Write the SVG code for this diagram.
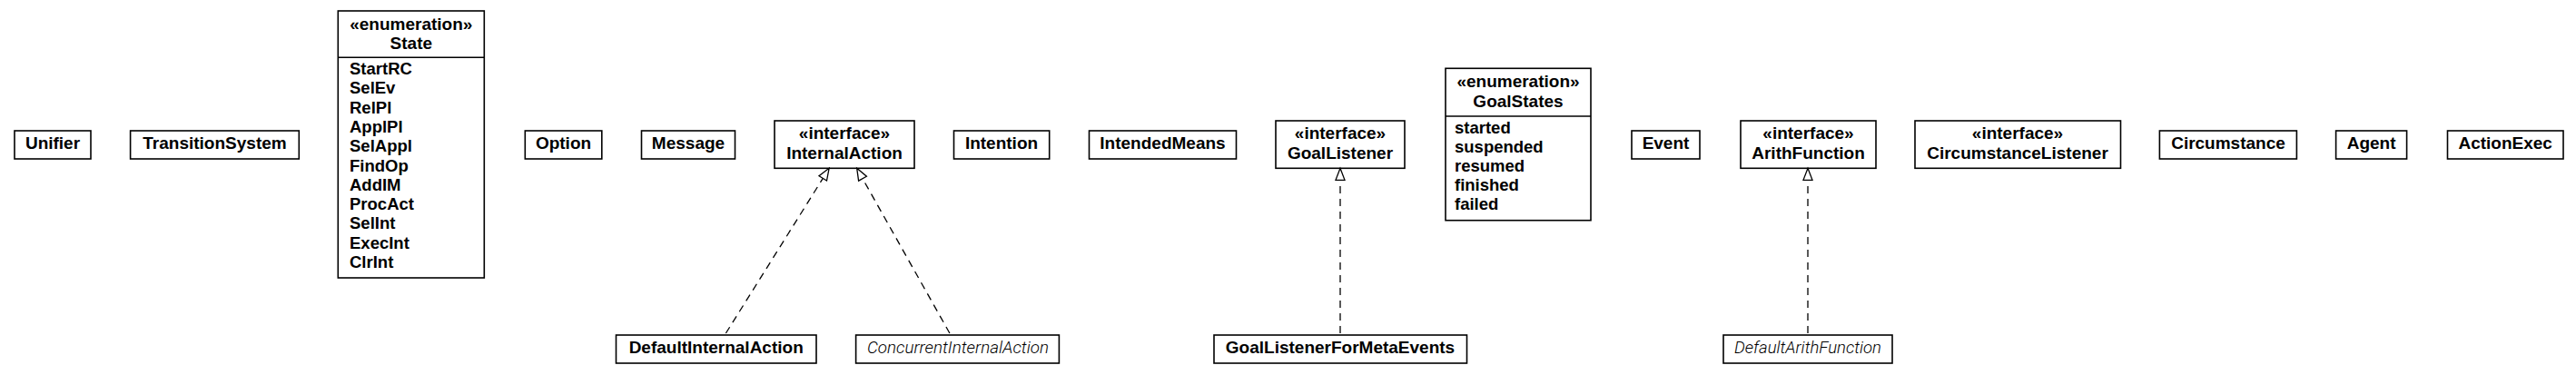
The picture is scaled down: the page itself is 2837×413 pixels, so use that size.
<svg xmlns="http://www.w3.org/2000/svg" width="2837" height="413" viewBox="0 0 2837 413">
<style>
.box{fill:#fff;stroke:#000;stroke-width:1.6}
.div{stroke:#000;stroke-width:1.6}
text{font-family:"Liberation Sans",Arial,Helvetica,sans-serif;fill:#000}
.b{font-weight:bold;font-size:19px}
.n{text-anchor:middle}
.it{font-family:Roboto,"Liberation Sans",sans-serif;font-style:italic;font-weight:300;font-size:18px;text-anchor:middle}
.a{font-weight:bold;font-size:18.5px}
.dash{fill:none;stroke:#000;stroke-width:1.3;stroke-dasharray:8,6}
.head{fill:#fff;stroke:#000;stroke-width:1.3}
</style>
<rect width="2837" height="413" fill="#fff"/>
<g id="Unifier"><rect class="box" x="16" y="144" width="84" height="31"/><text class="b n" x="58" y="164">Unifier</text></g>
<g id="TransitionSystem"><rect class="box" x="143.6" y="144" width="185.7" height="31"/><text class="b n" x="236.5" y="164">TransitionSystem</text></g>
<g id="State"><rect class="box" x="372.3" y="12" width="161" height="294"/><line class="div" x1="372.3" y1="63.3" x2="533.3" y2="63.3"/>
<text class="b n" x="452.8" y="33">«enumeration»</text><text class="b n" x="452.8" y="54">State</text>
<text class="a" x="385" y="82">StartRC</text><text class="a" x="385" y="103.3">SelEv</text><text class="a" x="385" y="124.6">RelPl</text><text class="a" x="385" y="145.9">ApplPl</text><text class="a" x="385" y="167.2">SelAppl</text><text class="a" x="385" y="188.5">FindOp</text><text class="a" x="385" y="209.8">AddIM</text><text class="a" x="385" y="231.1">ProcAct</text><text class="a" x="385" y="252.4">SelInt</text><text class="a" x="385" y="273.7">ExecInt</text><text class="a" x="385" y="295">ClrInt</text>
</g>
<g id="Option"><rect class="box" x="578.3" y="144" width="84.5" height="31"/><text class="b n" x="620.5" y="164">Option</text></g>
<g id="Message"><rect class="box" x="706.5" y="144" width="103" height="31"/><text class="b n" x="758" y="164">Message</text></g>
<g id="InternalAction"><rect class="box" x="853" y="133" width="154" height="52.3"/><text class="b n" x="930" y="153">«interface»</text><text class="b n" x="930" y="175">InternalAction</text></g>
<g id="Intention"><rect class="box" x="1050.5" y="144" width="105.2" height="31"/><text class="b n" x="1103" y="164">Intention</text></g>
<g id="IntendedMeans"><rect class="box" x="1199.5" y="144" width="162" height="31"/><text class="b n" x="1280.5" y="164">IntendedMeans</text></g>
<g id="GoalListener"><rect class="box" x="1405" y="133" width="142" height="52.3"/><text class="b n" x="1476" y="153">«interface»</text><text class="b n" x="1476" y="175">GoalListener</text></g>
<g id="GoalStates"><rect class="box" x="1592" y="75.3" width="160" height="167.4"/><line class="div" x1="1592" y1="128" x2="1752" y2="128"/>
<text class="b n" x="1672" y="95.5">«enumeration»</text><text class="b n" x="1672" y="117.5">GoalStates</text>
<text class="a" x="1602" y="146.5">started</text><text class="a" x="1602" y="167.6">suspended</text><text class="a" x="1602" y="188.7">resumed</text><text class="a" x="1602" y="209.8">finished</text><text class="a" x="1602" y="231">failed</text>
</g>
<g id="Event"><rect class="box" x="1797" y="144" width="75" height="31"/><text class="b n" x="1834.5" y="164">Event</text></g>
<g id="ArithFunction"><rect class="box" x="1917" y="133" width="149" height="52.3"/><text class="b n" x="1991.5" y="153">«interface»</text><text class="b n" x="1991.5" y="175">ArithFunction</text></g>
<g id="CircumstanceListener"><rect class="box" x="2109" y="133" width="226.5" height="52.3"/><text class="b n" x="2222" y="153">«interface»</text><text class="b n" x="2222" y="175">CircumstanceListener</text></g>
<g id="Circumstance"><rect class="box" x="2378.4" y="144" width="151" height="31"/><text class="b n" x="2454" y="164">Circumstance</text></g>
<g id="Agent"><rect class="box" x="2572.6" y="144" width="78" height="31"/><text class="b n" x="2611.6" y="164">Agent</text></g>
<g id="ActionExec"><rect class="box" x="2695.5" y="144" width="127.5" height="31"/><text class="b n" x="2759.2" y="164">ActionExec</text></g>
<g id="DefaultInternalAction"><rect class="box" x="678.5" y="369" width="220.5" height="31"/><text class="b n" x="788.7" y="389">DefaultInternalAction</text></g>
<g id="ConcurrentInternalAction"><rect class="box" x="942.6" y="369" width="223.8" height="31"/><text class="it" x="1055" y="389" textLength="200" lengthAdjust="spacingAndGlyphs">ConcurrentInternalAction</text></g>
<g id="GoalListenerForMetaEvents"><rect class="box" x="1337" y="369" width="278.5" height="31"/><text class="b n" x="1476" y="389">GoalListenerForMetaEvents</text></g>
<g id="DefaultArithFunction"><rect class="box" x="1898" y="369" width="186" height="31"/><text class="it" x="1991" y="389" textLength="162" lengthAdjust="spacingAndGlyphs">DefaultArithFunction</text></g>
<g id="connectors">
<line class="dash" x1="799.4" y1="367" x2="906.3" y2="196.4"/>
<polygon class="head" points="913.1,185.3 910.5,199 902,193.7"/>
<line class="dash" x1="1045.9" y1="367" x2="950" y2="196.7"/>
<polygon class="head" points="943.7,185.3 954.4,194.2 945.6,199.1"/>
<line class="dash" x1="1476" y1="367" x2="1476" y2="198.3"/>
<polygon class="head" points="1476,185.3 1481,198.3 1471,198.3"/>
<line class="dash" x1="1991" y1="367" x2="1991" y2="198.3"/>
<polygon class="head" points="1991,185.3 1996,198.3 1986,198.3"/>
</g>
</svg>
